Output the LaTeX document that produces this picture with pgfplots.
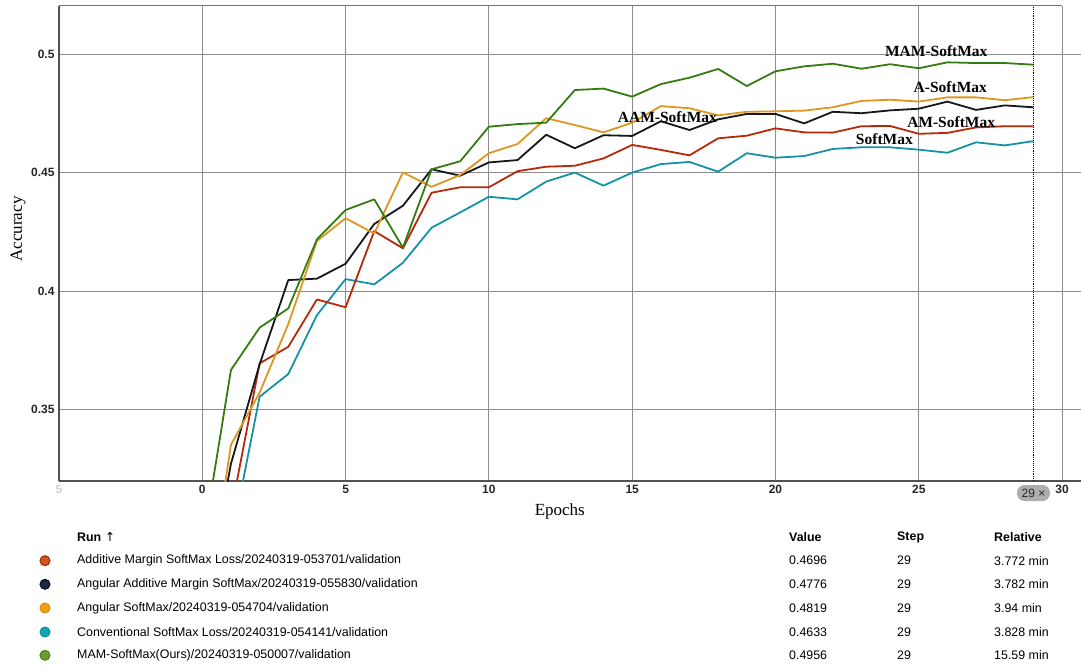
\documentclass[border=0pt]{standalone}
\usepackage{pgfplots}
\pgfplotsset{compat=1.18}
\usepackage{fontspec}
\setmainfont{Liberation Serif}
\newfontfamily\uisans{Liberation Sans}
\newfontfamily\symfont{DejaVu Sans}

% line colours
\definecolor{cMAM}{RGB}{52,124,18}
\definecolor{cA}{RGB}{222,150,32}
\definecolor{cAAM}{RGB}{22,22,28}
\definecolor{cAM}{RGB}{182,42,10}
\definecolor{cSM}{RGB}{22,146,166}
% run-table dots
\definecolor{dAM}{RGB}{216,84,30}
\definecolor{dAMb}{RGB}{150,42,8}
\definecolor{dAAM}{RGB}{30,40,66}
\definecolor{dAAMb}{RGB}{10,14,24}
\definecolor{dA}{RGB}{242,160,16}
\definecolor{dAb}{RGB}{214,138,4}
\definecolor{dSM}{RGB}{20,165,181}
\definecolor{dSMb}{RGB}{14,140,156}
\definecolor{dMAM}{RGB}{108,158,46}
\definecolor{dMAMb}{RGB}{78,124,26}

% validation accuracy per epoch
\pgfplotstableread{
x   y
0   0.2920
1   0.3666
2   0.3845
3   0.3926
4   0.4218
5   0.4342
6   0.4387
7   0.4183
8   0.4514
9   0.4548
10  0.4694
11  0.4705
12  0.4711
13  0.4849
14  0.4855
15  0.4821
16  0.4874
17  0.4901
18  0.4938
19  0.4866
20  0.4928
21  0.4949
22  0.4960
23  0.4939
24  0.4958
25  0.4941
26  0.4966
27  0.4963
28  0.4963
29  0.4956
}\mamsoftmax

\pgfplotstableread{
x   y
0   0.2550
1   0.3350
2   0.3570
3   0.3860
4   0.4211
5   0.4307
6   0.4243
7   0.4501
8   0.4440
9   0.4490
10  0.4582
11  0.4621
12  0.4730
13  0.4701
14  0.4670
15  0.4711
16  0.4781
17  0.4772
18  0.4742
19  0.4757
20  0.4759
21  0.4762
22  0.4776
23  0.4803
24  0.4808
25  0.4800
26  0.4818
27  0.4818
28  0.4806
29  0.4819
}\asoftmax

\pgfplotstableread{
x   y
0   0.2610
1   0.3270
2   0.3690
3   0.4046
4   0.4052
5   0.4115
6   0.4283
7   0.4360
8   0.4514
9   0.4487
10  0.4543
11  0.4553
12  0.4660
13  0.4603
14  0.4658
15  0.4655
16  0.4717
17  0.4680
18  0.4725
19  0.4748
20  0.4748
21  0.4708
22  0.4757
23  0.4751
24  0.4763
25  0.4770
26  0.4800
27  0.4765
28  0.4784
29  0.4776
}\aamsoftmax

\pgfplotstableread{
x   y
0   0.2500
1   0.3066
2   0.3694
3   0.3764
4   0.3964
5   0.3931
6   0.4253
7   0.4180
8   0.4415
9   0.4438
10  0.4438
11  0.4506
12  0.4525
13  0.4529
14  0.4560
15  0.4617
16  0.4596
17  0.4573
18  0.4645
19  0.4656
20  0.4687
21  0.4670
22  0.4669
23  0.4696
24  0.4697
25  0.4664
26  0.4668
27  0.4691
28  0.4696
29  0.4696
}\amsoftmax

\pgfplotstableread{
x   y
0   0.2350
1   0.2940
2   0.3553
3   0.3649
4   0.3898
5   0.4050
6   0.4028
7   0.4119
8   0.4267
9   0.4332
10  0.4398
11  0.4387
12  0.4462
13  0.4500
14  0.4445
15  0.4500
16  0.4536
17  0.4545
18  0.4504
19  0.4582
20  0.4563
21  0.4570
22  0.4600
23  0.4607
24  0.4607
25  0.4597
26  0.4584
27  0.4628
28  0.4615
29  0.4633
}\softmax

\begin{document}
\begin{tikzpicture}[x=1pt,y=1pt]
\path[use as bounding box] (0,0) rectangle (1081,-669);
\begin{axis}[
  at={(59pt,-481pt)}, anchor=south west,
  scale only axis, width=1022pt, height=475pt,
  xmin=-5, xmax=30.66, ymin=0.3197, ymax=0.5204,
  axis x line*=bottom, axis y line*=left,
  axis line style={draw=black!68, line width=1.3pt},
  xtick={-5,0,5,10,15,20,25,30},
  xticklabels={{\color{black!18}5},0,5,10,15,20,25,30},
  ytick={0.35,0.4,0.45,0.5},
  yticklabels={0.35,0.4,0.45,0.5},
  major tick length=0pt,
  grid=major,
  major grid style={draw=black!45, line width=0.9pt},
  ticklabel style={font=\uisans\bfseries\fontsize{12}{13}\selectfont, text=black!85},
  xticklabel style={yshift=-1pt},
  yticklabel style={xshift=-1pt},
  xlabel={Epochs},
  ylabel={Accuracy},
  xlabel style={font=\fontsize{17}{18}\selectfont, at={(axis description cs:0.490,-0.063)}, anchor=center},
  ylabel style={font=\fontsize{17}{18}\selectfont, at={(axis description cs:-0.0401,0.5305)}, anchor=center},
  every axis plot/.append style={line width=1.8pt, no markers, line join=round},
]
\addplot[cSM]  table[x=x,y=y] {\softmax};
\addplot[cAM]  table[x=x,y=y] {\amsoftmax};
\addplot[cAAM] table[x=x,y=y] {\aamsoftmax};
\addplot[cA]   table[x=x,y=y] {\asoftmax};
\addplot[cMAM] table[x=x,y=y] {\mamsoftmax};

% current step marker
\draw[black, line width=0.9pt, densely dotted] (axis cs:29,0.3197) -- (axis cs:29,0.5204);

% curve names
\begin{scope}[every node/.style={font=\bfseries\fontsize{15.5}{16}\selectfont, inner sep=0pt}]
\node at (axis cs:25.61,0.5014) {MAM-SoftMax};
\node at (axis cs:26.10,0.4862) {A-SoftMax};
\node at (axis cs:26.13,0.4715) {AM-SoftMax};
\node at (axis cs:23.80,0.4642) {SoftMax};
\node at (axis cs:16.23,0.4736) {AAM-SoftMax};
\end{scope}
\end{axis}

% top frame line
\draw[black!55, line width=1pt] (59,-6) -- (1062,-6);

% step badge
\node[fill=black!32, rounded corners=7.5pt, minimum width=33pt, minimum height=16pt, inner sep=0pt,
      font=\uisans\fontsize{12}{13}\selectfont, text=black!85] at (1033.5,-493) {29 ×};

% run table
\begin{scope}[every node/.style={anchor=west, inner sep=0pt, font=\uisans\fontsize{12.4}{14}\selectfont, text=black}]
\node[font=\uisans\bfseries\fontsize{12.4}{14}\selectfont] at (77,-537) {Run {\symfont\mdseries ↑}};
\node[font=\uisans\bfseries\fontsize{12.4}{14}\selectfont] at (789,-537) {Value};
\node[font=\uisans\bfseries\fontsize{12.4}{14}\selectfont] at (897,-537) {Step};
\node[font=\uisans\bfseries\fontsize{12.4}{14}\selectfont] at (994,-537) {Relative};

\node at (77,-560.7) {Additive Margin SoftMax Loss/20240319-053701/validation};
\node at (77,-584.3) {Angular Additive Margin SoftMax/20240319-055830/validation};
\node at (77,-608.0) {Angular SoftMax/20240319-054704/validation};
\node at (77,-632.0) {Conventional SoftMax Loss/20240319-054141/validation};
\node at (77,-655.3) {MAM-SoftMax(Ours)/20240319-050007/validation};

\node at (789,-560.7) {0.4696};
\node at (789,-584.3) {0.4776};
\node at (789,-608.0) {0.4819};
\node at (789,-632.0) {0.4633};
\node at (789,-655.3) {0.4956};

\node at (897,-560.7) {29};
\node at (897,-584.3) {29};
\node at (897,-608.0) {29};
\node at (897,-632.0) {29};
\node at (897,-655.3) {29};

\node at (994,-560.7) {3.772 min};
\node at (994,-584.3) {3.782 min};
\node at (994,-608.0) {3.94 min};
\node at (994,-632.0) {3.828 min};
\node at (994,-655.3) {15.59 min};
\end{scope}

\filldraw[fill=dAM,  draw=dAMb,  line width=1pt] (45,-560.7) circle (5pt);
\filldraw[fill=dAAM, draw=dAAMb, line width=1pt] (45,-584.3) circle (5pt);
\filldraw[fill=dA,   draw=dAb,   line width=1pt] (45,-608.0) circle (5pt);
\filldraw[fill=dSM,  draw=dSMb,  line width=1pt] (45,-632.0) circle (5pt);
\filldraw[fill=dMAM, draw=dMAMb, line width=1pt] (45,-655.3) circle (5pt);
\end{tikzpicture}
\end{document}
